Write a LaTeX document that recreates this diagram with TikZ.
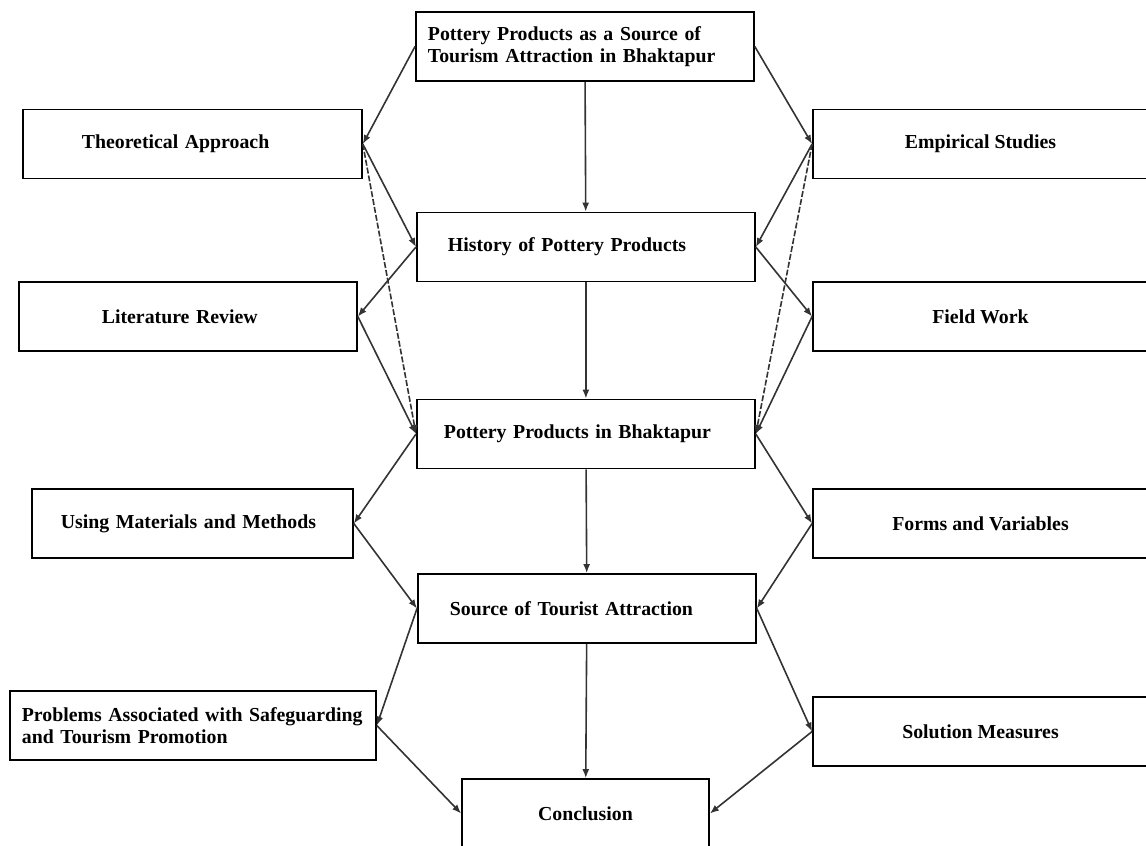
\documentclass[tikz,border=0pt]{standalone}
\usepackage{fontspec}
\setmainfont{Liberation Serif}
\usetikzlibrary{arrows.meta}

\begin{document}
\begin{tikzpicture}[x=0.5pt, y=-0.5pt,
        box/.style={draw, line width=0.9pt, minimum height=34.5pt, inner ysep=0pt,
            font=\fontsize{9.9}{10.9}\selectfont\bfseries},
        lbox/.style 2 args={box, anchor=west, align=left, inner xsep=#1, text width=#2},
        cbox/.style={box, align=center, minimum width=#1},
        link/.style={draw=black!80, line width=0.8pt, -{Latex[length=4.5pt, width=3.5pt]}},
        dlink/.style={link, dash pattern=on 3pt off 1pt}]
        \useasboundingbox (0,0) rectangle (1146,846);

        \node[lbox={6pt}{157pt}] (title) at (415,46.5) {Pottery Products as a Source of\\Tourism Attraction in Bhaktapur};
        \node[lbox={15.5pt}{138pt}] (history) at (416,247) {History of Pottery Products};
        \node[lbox={13.5pt}{142pt}] (bhaktapur) at (416,434) {Pottery Products in Bhaktapur};
        \node[lbox={16pt}{137pt}] (source) at (417,608.5) {Source of Tourist Attraction};
        \node[cbox=123.5pt] (conclusion) at (585.5,813.5) {Conclusion};

        \node[lbox={29.5pt}{110.5pt}] (theory) at (22,144) {Theoretical Approach};
        \node[lbox={41.5pt}{86pt}] (literature) at (18,316.5) {Literature Review};
        \node[lbox={14.5pt}{131.5pt}] (methods) at (31,523.5) {Using Materials and Methods};
        \node[lbox={6pt}{171pt}] (problems) at (9,725.5) {Problems Associated with Safeguarding\\and Tourism Promotion};

        \node[cbox=167.5pt] (empirical) at (980.5,144) {Empirical Studies};
        \node[cbox=167.5pt] (fieldwork) at (980.5,316.5) {Field Work};
        \node[cbox=167.5pt] (forms) at (980.5,523.5) {Forms and Variables};
        \node[cbox=167.5pt] (solution) at (980.5,731.5) {Solution Measures};

        \draw[link] (title) -- (history);
        \draw[link] (history) -- (bhaktapur);
        \draw[link] (bhaktapur) -- (source);
        \draw[link] (source) -- (conclusion);

        \draw[link] (title.west) -- (theory.east);
        \draw[link] (title.east) -- (empirical.west);
        \draw[link] (theory.east) -- (history.west);
        \draw[dlink] (theory.east) -- (bhaktapur.west);
        \draw[link] (history.west) -- (literature.east);
        \draw[link] (literature.east) -- (bhaktapur.west);
        \draw[link] (empirical.west) -- (history.east);
        \draw[dlink] (empirical.west) -- (bhaktapur.east);
        \draw[link] (history.east) -- (fieldwork.west);
        \draw[link] (fieldwork.west) -- (bhaktapur.east);
        \draw[link] (bhaktapur.west) -- (methods.east);
        \draw[link] (methods.east) -- (source.west);
        \draw[link] (bhaktapur.east) -- (forms.west);
        \draw[link] (forms.west) -- (source.east);
        \draw[link] (source.west) -- (problems.east);
        \draw[link] (problems.east) -- (conclusion.west);
        \draw[link] (source.east) -- (solution.west);
        \draw[link] (solution.west) -- (conclusion.east);
    \end{tikzpicture}
\end{document}
